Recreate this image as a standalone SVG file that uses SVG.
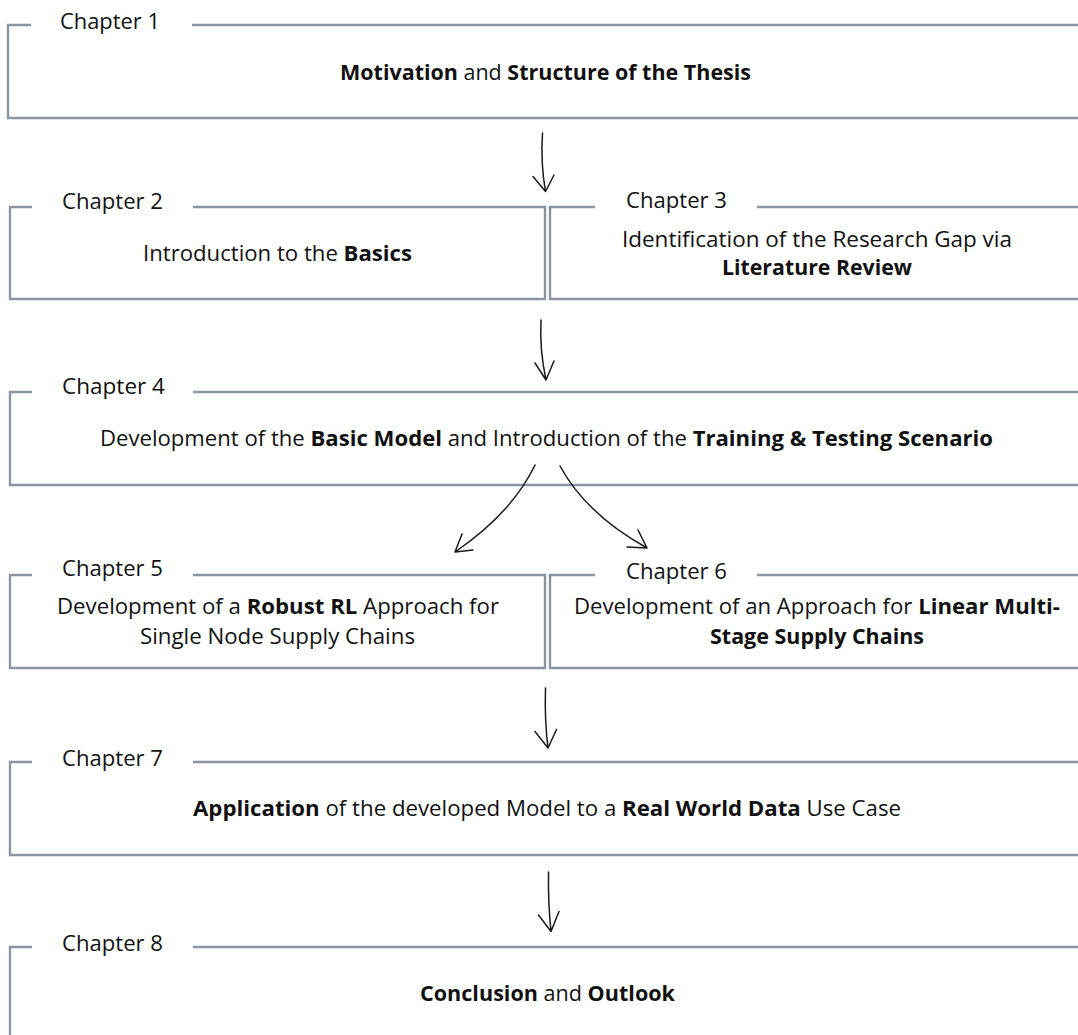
<svg xmlns="http://www.w3.org/2000/svg" width="1078" height="1035" viewBox="0 0 1078 1035">
  <style>
    .frame { fill: none; stroke: #8a95a1; stroke-width: 2.4; }
    .label { font-family: "Open Sans", "Liberation Sans", sans-serif; font-size: 21.5px; fill: #111; }
    .body { font-family: "Open Sans", "Liberation Sans", sans-serif; font-size: 21.5px; fill: #111; }
    .b { font-weight: bold; }
    .arrow { fill: none; stroke: #1a1a1a; stroke-width: 1.5; stroke-linecap: round; stroke-linejoin: round; }
  </style>
  <rect width="1078" height="1035" fill="#ffffff"/>

  <!-- Chapter 1 -->
  <g id="chapter1">
    <path class="frame" d="M31,25 H8 V118 H1080 M192,25 H1080"/>
    <text class="label" x="60" y="29" textLength="100" lengthAdjust="spacingAndGlyphs">Chapter 1</text>
    <text class="body" x="340" y="80" textLength="411" lengthAdjust="spacingAndGlyphs"><tspan class="b">Motivation</tspan> and <tspan class="b">Structure of the Thesis</tspan></text>
  </g>

  <!-- Chapter 2 -->
  <g id="chapter2">
    <path class="frame" d="M32,207 H10 V299 H545 V207 H193"/>
    <text class="label" x="62" y="209" textLength="101" lengthAdjust="spacingAndGlyphs">Chapter 2</text>
    <text class="body" x="143" y="261" textLength="269" lengthAdjust="spacingAndGlyphs">Introduction to the <tspan class="b">Basics</tspan></text>
  </g>

  <!-- Chapter 3 -->
  <g id="chapter3">
    <path class="frame" d="M595,207 H550 V299 H1080 M757,207 H1080"/>
    <text class="label" x="626" y="208" textLength="101" lengthAdjust="spacingAndGlyphs">Chapter 3</text>
    <text class="body" x="622" y="247" textLength="390" lengthAdjust="spacingAndGlyphs">Identification of the Research Gap via</text>
    <text class="body b" x="722" y="275" textLength="190" lengthAdjust="spacingAndGlyphs">Literature Review</text>
  </g>

  <!-- Chapter 4 -->
  <g id="chapter4">
    <path class="frame" d="M32,392 H10 V485 H1080 M193,392 H1080"/>
    <text class="label" x="62" y="394" textLength="103" lengthAdjust="spacingAndGlyphs">Chapter 4</text>
    <text class="body" x="100" y="446" textLength="893" lengthAdjust="spacingAndGlyphs">Development of the <tspan class="b">Basic Model</tspan> and Introduction of the <tspan class="b">Training &amp; Testing Scenario</tspan></text>
  </g>

  <!-- Chapter 5 -->
  <g id="chapter5">
    <path class="frame" d="M32,575 H10 V668 H545 V575 H193"/>
    <text class="label" x="62" y="576" textLength="101" lengthAdjust="spacingAndGlyphs">Chapter 5</text>
    <text class="body" x="57" y="614" textLength="442" lengthAdjust="spacingAndGlyphs">Development of a <tspan class="b">Robust RL</tspan> Approach for</text>
    <text class="body" x="140" y="644" textLength="275" lengthAdjust="spacingAndGlyphs">Single Node Supply Chains</text>
  </g>

  <!-- Chapter 6 -->
  <g id="chapter6">
    <path class="frame" d="M595,575 H550 V668 H1080 M757,575 H1080"/>
    <text class="label" x="626" y="579" textLength="101" lengthAdjust="spacingAndGlyphs">Chapter 6</text>
    <text class="body" x="574" y="614" textLength="486" lengthAdjust="spacingAndGlyphs">Development of an Approach for <tspan class="b">Linear Multi-</tspan></text>
    <text class="body b" x="710" y="644" textLength="214" lengthAdjust="spacingAndGlyphs">Stage Supply Chains</text>
  </g>

  <!-- Chapter 7 -->
  <g id="chapter7">
    <path class="frame" d="M32,762 H10 V855 H1080 M193,762 H1080"/>
    <text class="label" x="62" y="766" textLength="101" lengthAdjust="spacingAndGlyphs">Chapter 7</text>
    <text class="body" x="193" y="816" textLength="708" lengthAdjust="spacingAndGlyphs"><tspan class="b">Application</tspan> of the developed Model to a <tspan class="b">Real World Data</tspan> Use Case</text>
  </g>

  <!-- Chapter 8 -->
  <g id="chapter8">
    <path class="frame" d="M32,947 H10 V1040 M193,947 H1080"/>
    <text class="label" x="62" y="951" textLength="101" lengthAdjust="spacingAndGlyphs">Chapter 8</text>
    <text class="body" x="420" y="1001" textLength="255" lengthAdjust="spacingAndGlyphs"><tspan class="b">Conclusion</tspan> and <tspan class="b">Outlook</tspan></text>
  </g>

  <!-- hand-drawn connectors -->
  <g id="connectors">
    <path class="arrow" d="M542.5,133 Q540.5,163 545.5,191.5 M533,176.5 L545.5,191.5 L554,175"/>
    <path class="arrow" d="M541,320 Q539.5,350 546,380 M535,363 L546,380 L554,361"/>
    <path class="arrow" d="M545.5,688 Q544.5,720 548,748 M535,731.5 L548,748 L556.5,729.5"/>
    <path class="arrow" d="M548.5,872 Q548,903 551,931.5 M538.5,915 L551,931.5 L559,911.5"/>
    <path class="arrow" d="M535,465 Q512,513 455,552 M462,534 L455,552 L473,550"/>
    <path class="arrow" d="M560,466 Q586,514 647,548 M638,530 L647,548 L627,547"/>
  </g>
</svg>
